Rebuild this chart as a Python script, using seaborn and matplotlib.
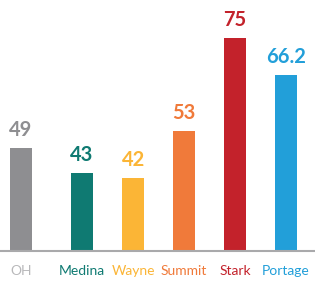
import numpy as np
import pandas as pd
import matplotlib
matplotlib.use('Agg')
import matplotlib.pyplot as plt
import seaborn as sns

counties = ['OH', 'Medina', 'Wayne', 'Summit', 'Stark', 'Portage']
values = [49, 43, 42, 53, 75, 66.2]
value_labels = ['49', '43', '42', '53', '75', '66.2']
bar_colors = ['#8e8e91', '#0f7a72', '#fbb536', '#f07a3a', '#c3222b', '#229fd9']
tick_colors = ['#b8b8ba', '#0f7a72', '#fbb536', '#f07a3a', '#c3222b', '#229fd9']

# OH set a little apart from the counties
pos = np.arange(len(counties)) + np.where(np.arange(len(counties)) > 0, 0.2, 0.0)
df = pd.DataFrame({'pos': pos, 'county': counties, 'value': values})

sns.set_style('white')
plt.rcParams['font.family'] = ['Lato', 'DejaVu Sans']

fig = plt.figure(figsize=(3.15, 2.81), dpi=100)
ax = fig.add_axes([0, 30 / 281, 1, 251 / 281])

sns.barplot(data=df, x='pos', y='value', hue='county', palette=bar_colors,
            native_scale=True, width=0.43, legend=False, ax=ax,
            saturation=1, edgecolor='none')

ax.set_xlim(-0.412, 5.77)
ax.set_ylim(24.7, 83.9)

for x, v, lab, c in zip(pos, values, value_labels, bar_colors):
    ax.annotate(lab, (x, v), xytext=(0, 8.6), textcoords='offset points',
                ha='center', va='baseline', fontsize=14.5, fontweight='bold', color=c)

ax.set_xticks(pos)
ax.set_xticklabels(counties, fontsize=10)
for t, c in zip(ax.get_xticklabels(), tick_colors):
    t.set_color(c)
ax.tick_params(axis='x', length=0, pad=10)
ax.set_yticks([])
ax.set_xlabel('')
ax.set_ylabel('')
for s in ['top', 'left', 'right']:
    ax.spines[s].set_visible(False)
ax.spines['bottom'].set_color('#a9a9ab')
ax.spines['bottom'].set_linewidth(1.5)

fig.savefig('out.png', dpi=100)
